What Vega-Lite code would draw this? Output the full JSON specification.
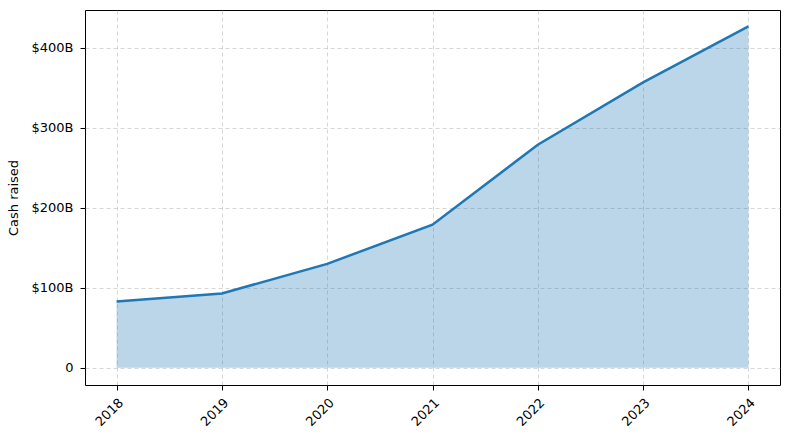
{
  "$schema": "https://vega.github.io/schema/vega-lite/v6.json",
  "width": 695,
  "height": 375,
  "autosize": {"type": "none"},
  "padding": {"left": 85, "top": 10, "right": 10, "bottom": 55},
  "background": "white",
  "data": {
    "values": [
      {"year": 2018, "cash": 83},
      {"year": 2019, "cash": 93},
      {"year": 2020, "cash": 130},
      {"year": 2021, "cash": 179},
      {"year": 2022, "cash": 279},
      {"year": 2023, "cash": 357},
      {"year": 2024, "cash": 427}
    ]
  },
  "config": {
    "font": "DejaVu Sans",
    "view": {"stroke": "black", "strokeWidth": 1},
    "axis": {
      "labelFont": "DejaVu Sans",
      "labelFontSize": 13,
      "labelColor": "black",
      "titleFont": "DejaVu Sans",
      "titleFontSize": 13,
      "titleFontWeight": "normal",
      "titleColor": "black",
      "domain": false,
      "tickColor": "black",
      "tickSize": 5,
      "labelPadding": 6,
      "gridColor": "#b0b0b0",
      "gridOpacity": 0.5,
      "gridDash": [4, 3],
      "gridWidth": 1
    }
  },
  "encoding": {
    "x": {
      "field": "year",
      "type": "quantitative",
      "scale": {"domain": [2017.7, 2024.3], "nice": false, "zero": false},
      "axis": {
        "title": null,
        "values": [2018, 2019, 2020, 2021, 2022, 2023, 2024],
        "format": "d",
        "labelAngle": -45
      }
    }
  },
  "layer": [
    {
      "mark": {"type": "area", "color": "#1f77b4", "fillOpacity": 0.3},
      "encoding": {
        "y": {
          "field": "cash",
          "type": "quantitative",
          "scale": {"domain": [-21.5, 447.5], "nice": false, "zero": false},
          "axis": {
            "title": "Cash raised",
            "values": [0, 100, 200, 300, 400],
            "labelExpr": "datum.value == 0 ? '0' : '$' + datum.value + 'B'",
            "labelPadding": 7,
            "titlePadding": 10
          }
        },
        "y2": {"datum": 0}
      }
    },
    {
      "mark": {"type": "line", "color": "#1f77b4", "strokeWidth": 2.5},
      "encoding": {
        "y": {"field": "cash", "type": "quantitative"}
      }
    }
  ]
}
